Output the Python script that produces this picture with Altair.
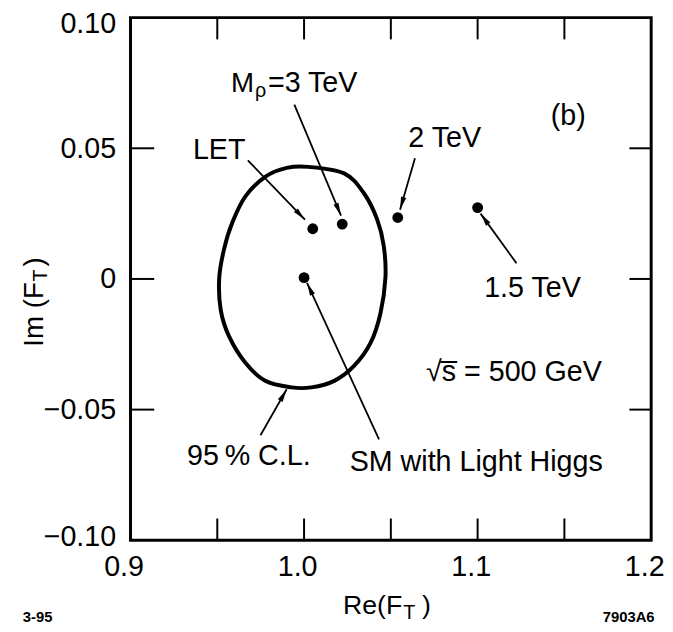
import math
import altair as alt
import pandas as pd

# ---------------- data ----------------
# model points (Re F_T, Im F_T)
pt_name = ["LET", "M_rho = 3 TeV", "2 TeV", "1.5 TeV", "SM with Light Higgs"]
pt_re = [1.005, 1.022, 1.054, 1.100, 1.000]
pt_im = [0.0192, 0.0210, 0.0235, 0.0273, 0.0005]

# 95 % C.L. contour, read point by point around the ellipse
cl_re = [1.0023, 1.0231, 1.0345, 1.0421, 1.0459, 1.0469, 1.0440, 1.0383, 1.0288,
         1.0174, 1.0042, 0.9928, 0.9776, 0.9662, 0.9568, 0.9520, 0.9511, 0.9539,
         0.9586, 0.9662, 0.9776, 0.9900]
cl_im = [0.0429, 0.0404, 0.0328, 0.0228, 0.0127, 0.0006, -0.0132, -0.0245, -0.0333,
         -0.0390, -0.0415, -0.0415, -0.0390, -0.0321, -0.0220, -0.0119, 0.0002, 0.0114,
         0.0215, 0.0316, 0.0391, 0.0425]

# annotation arrows (tail -> head)
ar_x1 = [0.9676, 0.9944, 1.0639, 1.1224, 1.0432, 0.9749]
ar_y1 = [0.0454, 0.0667, 0.0462, 0.0060, -0.0614, -0.0598]
ar_x2 = [1.0005, 1.0213, 1.0553, 1.1017, 1.0017, 0.9900]
ar_y2 = [0.0227, 0.0242, 0.0265, 0.0250, -0.0015, -0.0422]

# annotation labels (centre x, baseline y)
lab_text = ["LET", "2 TeV", "(b)", "1.5 TeV", "\u221as\u0305 = 500 GeV", "95\u2009% C.L.", "SM with Light Higgs"]
lab_x = [0.9511, 1.081, 1.1522, 1.1316, 1.1209, 0.9682, 1.0992]
lab_y = [0.0460, 0.0505, 0.0591, -0.0068, -0.0390, -0.0712, -0.0735]

# M_rho label anchor (end of "M", baseline)
mrho_x = [0.9712]
mrho_y = [0.0715]

x_ticks_lab = [0.9, 1.0, 1.1, 1.2]
y_ticks_lab = [-0.10, -0.05, 0.0, 0.05, 0.10]
x_ticks_in = [0.95, 1.0, 1.05, 1.1, 1.15]
y_ticks_in = [-0.05, 0.0, 0.05]

# ---------------- layout ----------------
W, H = 527, 529
FONT = "Liberation Sans"
TL = 22  # inner tick length

xs = alt.Scale(domain=[0.9, 1.2], nice=False, zero=False)
ys = alt.Scale(domain=[-0.1, 0.1], nice=False, zero=False)

xaxis = alt.Axis(values=x_ticks_lab, format=".1f", ticks=False, domain=False, grid=False,
                 labelFontSize=29, labelPadding=13, labelOffset=-7, labelFlush=False,
                 title=None, labelColor="black", labelFont=FONT)
yaxis = alt.Axis(values=y_ticks_lab, ticks=False, domain=False, grid=False,
                 labelExpr="datum.value == 0 ? '0' : format(datum.value, '.2f')",
                 labelFontSize=29, labelPadding=15, title=None, labelFlush=False,
                 labelOffset={"condition": [{"test": "datum.value > 0.09", "value": 6},
                                            {"test": "datum.value < -0.09", "value": -4}],
                              "value": 0},
                 labelColor="black", labelFont=FONT)


def X(f):
    return alt.X(f, type="quantitative", scale=xs, axis=xaxis)


def Y(f):
    return alt.Y(f, type="quantitative", scale=ys, axis=yaxis)


pts = pd.DataFrame({"name": pt_name, "re": pt_re, "im": pt_im})
cl = pd.DataFrame({"re": cl_re, "im": cl_im, "k": list(range(len(cl_re)))})

sx, sy = W / 0.3, H / 0.2
ang = []
for a, b, c, d in zip(ar_x1, ar_y1, ar_x2, ar_y2):
    dx = (c - a) * sx
    dy = -(d - b) * sy
    ang.append(math.degrees(math.atan2(dx, -dy)) % 360)
arr = pd.DataFrame({"x1": ar_x1, "y1": ar_y1, "x2": ar_x2, "y2": ar_y2, "ang": ang})
labs = pd.DataFrame({"t": lab_text, "x": lab_x, "y": lab_y})
mr = pd.DataFrame({"x": mrho_x, "y": mrho_y})
one = pd.DataFrame({"a": [0]})

ellipse = alt.Chart(cl).mark_line(color="black", strokeWidth=4, interpolate="cardinal-closed").encode(
    x=X("re"), y=Y("im"), order="k:Q")

dots = alt.Chart(pts).mark_circle(color="black", opacity=1, size=120).encode(x=X("re"), y=Y("im"))

shafts = alt.Chart(arr).mark_rule(color="black", strokeWidth=1.8).encode(
    x=X("x1"), y=Y("y1"), x2="x2", y2="y2")

heads = alt.Chart(arr).mark_point(shape="M0,0L0.45,2.2L-0.45,2.2Z", filled=True, color="black",
                                  opacity=1, size=144).encode(
    x=X("x2"), y=Y("y2"), angle=alt.Angle("ang:Q", scale=None))

texts = alt.Chart(labs).mark_text(font=FONT, fontSize=29, color="black", align="center",
                                  baseline="alphabetic").encode(x=X("x"), y=Y("y"), text="t:N")

m1 = alt.Chart(mr).mark_text(font=FONT, fontSize=28, align="right", baseline="alphabetic",
                             text="M", color="black").encode(x=X("x"), y=Y("y"))
m2 = alt.Chart(mr).mark_text(font=FONT, fontSize=20, align="left", baseline="alphabetic",
                             text="\u03c1", dx=1, dy=5, color="black").encode(x=X("x"), y=Y("y"))
m3 = alt.Chart(mr).mark_text(font=FONT, fontSize=29, align="left", baseline="alphabetic",
                             text="=3 TeV", dx=14, color="black").encode(x=X("x"), y=Y("y"))

# inner ticks on the four sides of the frame
tx = pd.DataFrame({"v": x_ticks_in})
ty = pd.DataFrame({"v": y_ticks_in})
tick_top = alt.Chart(tx).mark_rule(color="black", strokeWidth=2).encode(
    x=X("v"), y=alt.value(0), y2=alt.value(TL))
tick_bot = alt.Chart(tx).mark_rule(color="black", strokeWidth=2).encode(
    x=X("v"), y=alt.value(H - TL), y2=alt.value(H))
tick_l = alt.Chart(ty).mark_rule(color="black", strokeWidth=2).encode(
    y=Y("v"), x=alt.value(0), x2=alt.value(TL + 2))
tick_r = alt.Chart(ty).mark_rule(color="black", strokeWidth=2).encode(
    y=Y("v"), x=alt.value(W - TL), x2=alt.value(W))


# axis titles with subscripts
def txt(s, x, y, size, align="left", angle=0, weight="normal"):
    return alt.Chart(one).mark_text(text=s, font=FONT, fontSize=size, align=align,
                                    baseline="alphabetic", angle=angle, color="black",
                                    fontWeight=weight).encode(
        x=alt.value(x), y=alt.value(y))


xt1 = txt("Re(F", 275, 604, 27, align="right")
xt2 = txt("T", 276, 609, 20)
xt3 = txt(")", 295, 604, 27)

yt1 = txt("Im (F", -89, 333, 28, angle=270)
yt2 = txt("T", -85, 267, 20, angle=270)
yt3 = txt(")", -89, 252, 28, angle=270)

foot1 = txt("3-95", -109, 612, 15, weight="bold")
foot2 = txt("7903A6", 478, 612, 15, weight="bold")

chart = alt.layer(
    ellipse, shafts, heads, dots, texts, m1, m2, m3,
    tick_top, tick_bot, tick_l, tick_r,
    xt1, xt2, xt3, yt1, yt2, yt3, foot1, foot2,
).properties(
    width=W, height=H,
    autosize=alt.AutoSizeParams(type="none"),
    padding={"left": 124, "top": 6, "right": 14, "bottom": 81},
).configure(background="white").configure_view(stroke="black", strokeWidth=3)

chart.save("out.html", embed_options={"renderer": "svg", "actions": False})
